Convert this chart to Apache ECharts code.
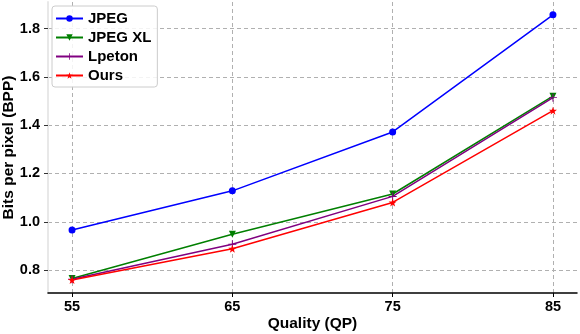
<!DOCTYPE html>
<html>
<head>
<meta charset="utf-8">
<script src="https://cdn.jsdelivr.net/npm/echarts@6/dist/echarts.min.js"></script>
<style>
html,body{margin:0;padding:0;background:#fff;}
#c{width:580px;height:334px;}
</style>
</head>
<body>
<div id="c"></div>
<script>
var qualities = [55, 65, 75, 85];
var jpeg = [0.966, 1.128, 1.372, 1.857];
var jpegXL = [0.765, 0.948, 1.115, 1.52];
var lpeton = [0.762, 0.907, 1.105, 1.514];
var ours = [0.759, 0.888, 1.08, 1.46];
var yTicks = [0.8, 1.0, 1.2, 1.4, 1.6, 1.8];
var xTicks = [55, 65, 75, 85];
var seriesNames = ['JPEG', 'JPEG XL', 'Lpeton', 'Ours'];

function pairs(vals){ return qualities.map(function(q,i){ return [q, vals[i]]; }); }

var plusPath = 'path://M-0.6,-5 L0.6,-5 L0.6,-0.6 L5,-0.6 L5,0.6 L0.6,0.6 L0.6,5 L-0.6,5 L-0.6,0.6 L-5,0.6 L-5,-0.6 L-0.6,-0.6 Z';
var starPath = 'path://M0,-10 L2.35,-3.24 L9.51,-3.09 L3.8,1.24 L5.88,8.09 L0,4 L-5.88,8.09 L-3.8,1.24 L-9.51,-3.09 L-2.35,-3.24 Z';
var font = 'Liberation Sans, Arial, sans-serif';

function mk(name, vals, color, symbol, size, rot){
  return {
    name: name, type: 'line', data: pairs(vals),
    symbol: symbol, symbolSize: size, symbolRotate: rot || 0,
    showSymbol: true,
    lineStyle: {color: color, width: 1.5},
    itemStyle: {color: color, borderWidth: 0},
    emphasis: {disabled: true},
    animation: false
  };
}

var chart = echarts.init(document.getElementById('c'), null, {renderer: 'canvas'});
chart.setOption({
  animation: false,
  grid: {left: 48, right: 3, top: 2, bottom: 41, containLabel: false, outerBoundsMode: 'none'},
  legend: {
    left: 52, top: 6, orient: 'vertical',
    data: seriesNames,
    itemWidth: 27, itemHeight: 8, itemGap: 4,
    padding: [5, 6, 4, 3],
    borderColor: '#cccccc', borderWidth: 1, borderRadius: 3,
    backgroundColor: 'rgba(255,255,255,0.85)',
    textStyle: {fontFamily: font, fontWeight: 'bold', fontSize: 15, color: '#000'}
  },
  xAxis: {
    type: 'value', min: 53.5, max: 86.5,
    name: 'Quality (QP)', nameLocation: 'middle', nameGap: 23, nameMoveOverlap: false,
    nameTextStyle: {fontFamily: font, fontWeight: 'bold', fontSize: 15.5, color: '#000'},
    axisLine: {show: true, onZero: false, lineStyle: {color: '#000', width: 1.5}},
    axisTick: {show: true, length: 4, lineStyle: {color: '#000'}, customValues: xTicks},
    axisLabel: {fontFamily: font, fontWeight: 'bold', fontSize: 14.5, color: '#000', margin: 6, customValues: xTicks},
    splitLine: {show: true, lineStyle: {color: '#b0b0b0', type: [4, 3], width: 1}}
  },
  yAxis: {
    type: 'value', min: 0.705, max: 1.91,
    name: 'Bits per pixel (BPP)', nameLocation: 'middle', nameGap: 31, nameMoveOverlap: false,
    nameTextStyle: {fontFamily: font, fontWeight: 'bold', fontSize: 15.5, color: '#000'},
    axisLine: {show: true, onZero: false, lineStyle: {color: '#e8e8e8', width: 2}},
    axisTick: {show: true, length: 4, lineStyle: {color: '#333'}, customValues: yTicks},
    axisLabel: {fontFamily: font, fontWeight: 'bold', fontSize: 14.5, color: '#000', margin: 8,
      customValues: yTicks, formatter: function(v){ return v.toFixed(1); }},
    splitLine: {show: true, lineStyle: {color: '#b0b0b0', type: [4, 3], width: 1}}
  },
  series: [
    mk('JPEG', jpeg, '#0000ff', 'circle', 7),
    mk('JPEG XL', jpegXL, '#007f00', 'triangle', 7, 180),
    mk('Lpeton', lpeton, '#800080', plusPath, 8),
    mk('Ours', ours, '#ff0000', starPath, 8)
  ]
});
</script>
</body>
</html>
